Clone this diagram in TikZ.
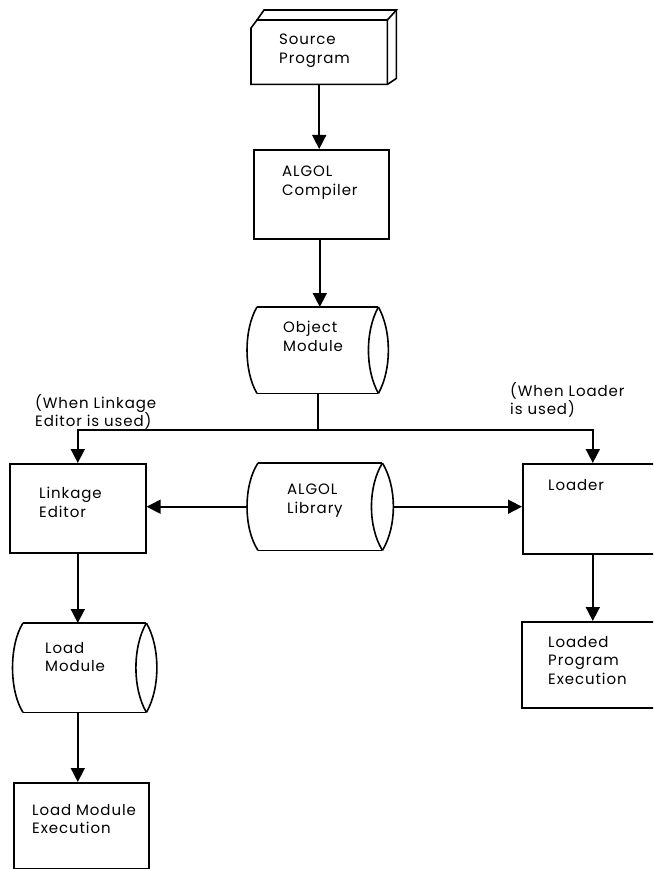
\documentclass[tikz,border=0pt]{standalone}
\usepackage{fontspec}
\setmainfont{Poppins}[LetterSpace=6]
\usetikzlibrary{arrows.meta,calc}

\tikzset{
  every picture/.style={x=1pt,y=-1pt},
  flow/.style={line width=1.6pt, line join=miter},
  arr/.style={flow, -{Triangle[width=14pt,length=14pt]}},
  box/.style={draw, line width=1.6pt, rectangle, inner sep=0pt, anchor=north west},
  frame/.style={rectangle, inner sep=0pt, anchor=north west},
  txt/.style={anchor=north west, inner sep=0pt, align=left,
              font=\fontsize{15}{18.5}\selectfont}
}

% drum (direct access storage) outline drawn round a named frame node:
% #1 node name, #2 bulge of the left edge and of the right lens
\newcommand\drumoutline[2]{%
  \draw[flow] (#1.north west) -- (#1.north east)
              (#1.south west) -- (#1.south east);
  \draw[flow] (#1.north west)
      .. controls ($(#1.north west)+({-1.33*#2},22)$)
             and  ($(#1.south west)+({-1.33*#2},-22)$) .. (#1.south west);
  \draw[flow] (#1.north east)
      .. controls ($(#1.north east)+({-1.33*#2},24)$)
             and  ($(#1.south east)+({-1.33*#2},-24)$) .. (#1.south east);
  \draw[flow] (#1.north east)
      .. controls ($(#1.north east)+({1.33*#2},24)$)
             and  ($(#1.south east)+({1.33*#2},-24)$) .. (#1.south east);
}

\begin{document}
\begin{tikzpicture}
\useasboundingbox (0,0) rectangle (653,869);
\clip (0,0) rectangle (653,869);

% ---- source program card (drawn as a block with a clipped corner)
\node[frame, minimum width=136pt, minimum height=64pt] (src) at (251,20) {};
\draw[flow] (src.south west) -- ($(src.north west)+(0,8)$)
            -- ($(src.north west)+(6,0)$) -- (src.north east)
            -- (src.south east) -- cycle;
\draw[flow] ($(src.north west)+(6,0)$) -- ($(src.north west)+(13,-10)$)
            -- ($(src.north east)+(9,-10)$) -- (src.north east);
\draw[flow] ($(src.north east)+(9,-10)$) -- ($(src.south east)+(9,-6)$)
            -- (src.south east);
\node[txt] (srcT) at (279,34) {Source\\Program};

% ---- compiler
\node[box, minimum width=135pt, minimum height=89pt] (comp) at (253,149) {};
\node[txt] (compT) at (282,166) {ALGOL\\Compiler};

% ---- object module
\node[frame, minimum width=121pt, minimum height=86pt] (obj) at (257,307) {};
\drumoutline{obj}{10}
\node[txt] (objT) at (283,321) {Object\\Module};

% ---- branch point below the object module
\coordinate (split) at (318,430);

% ---- linkage editor path
\node[box, minimum width=136pt, minimum height=89pt] (le) at (9,463) {};
\node[txt] (leT) at (39,487) {Linkage\\Editor};

\node[frame, minimum width=123pt, minimum height=89pt] (lm) at (23,623) {};
\drumoutline{lm}{10.5}
\node[txt] (lmT) at (45,642) {Load\\Module};

\node[box, minimum width=135pt, minimum height=86pt] (lme) at (13,782) {};
\node[txt] (lmeT) at (32,804) {Load Module\\Execution};

% ---- library
\node[frame, minimum width=124pt, minimum height=87pt] (lib) at (258,463) {};
\drumoutline{lib}{11}
\node[txt] (libT) at (287,484) {ALGOL\\Library};

% ---- loader path
\node[box, minimum width=140pt, minimum height=90pt] (ldr) at (522,463) {};
\node[txt] (ldrT) at (548,479) {Loader};

\node[box, minimum width=140pt, minimum height=86pt] (lpe) at (521,621) {};
\node[txt] (lpeT) at (548,636) {Loaded\\Program\\Execution};

% ---- notes on the two branches
\node[txt] (noteL) at (35,394) {(When Linkage\\Editor is used)};
\node[txt] (noteR) at (510,382) {(When Loader\\is used)};

% ---- connectors
\draw[arr] (src.south) -- (src.south |- comp.north);
\draw[arr] ([xshift=-1.5pt]comp.south) -- ([xshift=-1.5pt]comp.south |- obj.north);
\draw[flow] (obj.south) -- (obj.south |- split);
\draw[arr] (obj.south |- split) -| (le.north);
\draw[arr] (obj.south |- split) -| (ldr.north);
\draw[arr] ([xshift=-11pt]lib.west) -- (lib.west -| le.east);
\draw[arr] ([xshift=11pt]lib.east) -- (lib.east -| ldr.west);
\draw[arr] (le.south) -- (le.south |- lm.north);
\draw[arr] (le.south |- lm.south) -- (le.south |- lme.north);
\draw[arr] (ldr.south) -- (ldr.south |- lpe.north);
\end{tikzpicture}
\end{document}
